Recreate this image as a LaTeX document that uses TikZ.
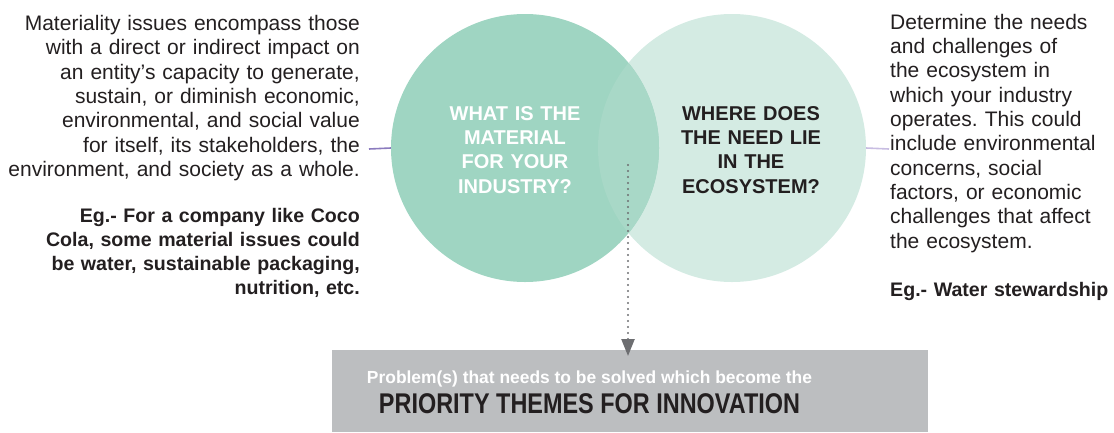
\documentclass[tikz,border=0pt]{standalone}
\usepackage{fontspec}
\setmainfont{Liberation Sans}
\usetikzlibrary{arrows.meta}
\definecolor{txt}{HTML}{231F20}
\definecolor{cL}{HTML}{9FD5C2}
\definecolor{cR}{HTML}{D4EBE3}
\definecolor{cO}{HTML}{A8D8C7}
\definecolor{pL}{HTML}{8B7BBE}
\definecolor{pR}{HTML}{C8BDE2}
\definecolor{boxg}{HTML}{BCBEC0}
\definecolor{dotg}{HTML}{6D6E71}
\frenchspacing
\hyphenpenalty=10000
\begin{document}
\begin{tikzpicture}[x=1pt,y=-1pt,
  body/.style={font=\fontsize{21}{24.3}\selectfont\frenchspacing, text=txt, inner sep=0pt},
  bodyb/.style={font=\fontsize{19.6}{24.3}\selectfont\bfseries\frenchspacing, text=txt, inner sep=0pt},
  qtext/.style={font=\fontsize{20}{24.1}\selectfont\bfseries, inner sep=0pt, align=center, text width=220pt},
  venn/.style={circle, minimum size=268pt, inner sep=0pt},
  link/.style={line width=1.6pt}]
\useasboundingbox (0,0) rectangle (1114,432);
% circles
\node[venn, fill=cR] (R) at (732,148) {};
\node[venn, fill=cL] (L) at (525,148) {};
\begin{scope}
  \clip (525,148) circle[radius=134pt];
  \fill[cO] (732,148) circle[radius=134pt];
\end{scope}
\node[qtext, text=white, anchor=base] (qL) at (515,120.7) {WHAT IS THE\\MATERIAL\\FOR YOUR\\INDUSTRY?};
\node[qtext, text=txt, anchor=base] (qR) at (751,120.7) {WHERE DOES\\THE NEED LIE\\IN THE\\ECOSYSTEM?};
% left texts
\node[body, text width=400pt, align=right, anchor=base east] (tL) at (360,30.5)
 {Materiality issues encompass those\\with a direct or indirect impact on\\an entity’s capacity to generate,\\sustain, or diminish economic,\\environmental, and social value\\for itself, its stakeholders, the\\environment, and society as a whole.};
\node[bodyb, text width=360pt, align=right, anchor=base east] (eL) at (360,222)
 {Eg.- For a company like Coco\\Cola, some material issues could\\be water, sustainable packaging,\\nutrition, etc.};
% right texts
\node[body, text width=240pt, align=left, anchor=base west] (tR) at (890,29.3)
 {Determine the needs\\and challenges of\\the ecosystem in\\which your industry\\operates. This could\\include environmental\\concerns, social\\factors, or economic\\challenges that affect\\the ecosystem.};
\node[bodyb, text width=240pt, align=left, anchor=base west] (eR) at (890,296.7)
 {Eg.- Water stewardship};
% connectors
\coordinate (aL) at (369,149);
\coordinate (aR) at (889,149);
\draw[link, pL] (aL) -- (L.west);
\draw[link, pR] (R.east) -- (aR);
% box
\node[fill=boxg, minimum width=596pt, minimum height=82pt, inner sep=0pt, anchor=north west] (box) at (332,350) {};
\node[inner sep=0pt, anchor=base, text=white, font=\fontsize{17.5}{18}\selectfont\bfseries] (b1) at (589.5,383)
 {\resizebox{445pt}{\height}{Problem(s) that needs to be solved which become the}};
\node[inner sep=0pt, anchor=base, text=txt, font=\fontsize{28.5}{30}\selectfont\bfseries] (b2) at (589.5,413)
 {\resizebox{421pt}{\height}{PRIORITY THEMES FOR INNOVATION}};
% arrow
\coordinate (ov) at (628,165);
\draw[dotg, line width=2.4pt, line cap=round, dash pattern=on 0pt off 6pt, shorten >=-6pt,
  -{Triangle[width=13pt,length=17pt,line cap=butt]}] (ov) -- (ov |- box.north);
\end{tikzpicture}
\end{document}
